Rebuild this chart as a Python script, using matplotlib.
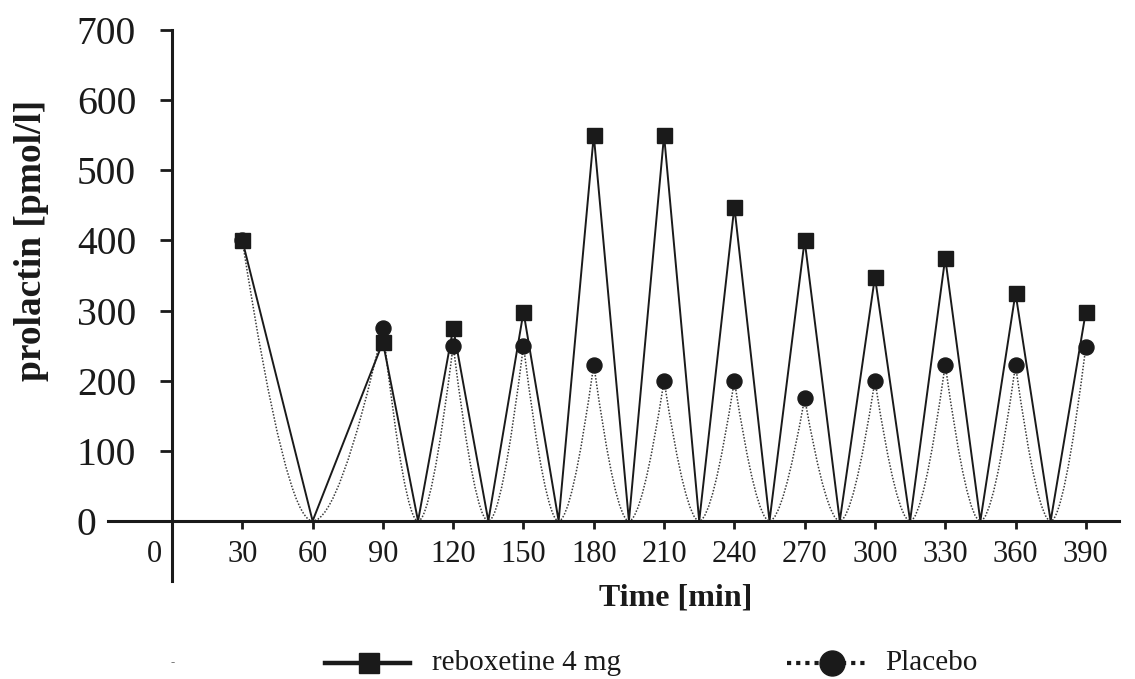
import matplotlib
matplotlib.use("Agg")
import matplotlib.pyplot as plt
from matplotlib.path import Path
from matplotlib.patches import PathPatch
from matplotlib.lines import Line2D

# ---- data ----
times = [30, 90, 120, 150, 180, 210, 240, 270, 300, 330, 360, 390]
reboxetine = [400, 255, 275, 298, 550, 550, 448, 400, 348, 375, 325, 298]
placebo = [400, 275, 250, 250, 223, 200, 200, 175, 200, 223, 222, 248]
# times at which the plotted lines drop to zero between samples
zero_times = [60, 105, 135, 165, 195, 225, 255, 285, 315, 345, 375]
xtick_vals = [30, 60, 90, 120, 150, 180, 210, 240, 270, 300, 330, 360, 390]
ytick_vals = [0, 100, 200, 300, 400, 500, 600, 700]


def interleave(vals):
    xs, ys = [], []
    for i, (t, v) in enumerate(zip(times, vals)):
        xs.append(t)
        ys.append(v)
        if i < len(zero_times):
            xs.append(zero_times[i])
            ys.append(0)
    return xs, ys


W, H = 1135, 679
fig = plt.figure(figsize=(W / 100, H / 100), dpi=100)
plt.rcParams['font.family'] = ['Liberation Serif', 'DejaVu Serif']

ax_l, ax_r = 107.6, 1118.6
ax_t, ax_b = 30.0, 580.6
ax = fig.add_axes([ax_l / W, 1 - ax_b / H, (ax_r - ax_l) / W, (ax_b - ax_t) / H])
ax.set_xlim(-27.5, 404)
ax.set_ylim(-85, 700)

# reboxetine: straight segments
rx, ry = interleave(reboxetine)
ax.plot(rx, ry, color='#1a1a1a', lw=1.4, zorder=3)
ax.plot(times, reboxetine, ls='none', marker='s', ms=10.8, color='#1a1a1a', zorder=5)

# placebo: smooth dotted curve touching zero
px, py = interleave(placebo)
verts = [(px[0], py[0])]
codes = [Path.MOVETO]
c = 0.62
for i in range(len(px) - 1):
    x0, y0, x1, y1 = px[i], py[i], px[i + 1], py[i + 1]
    if y1 == 0:  # peak -> zero
        ctrl = (x0 + c * (x1 - x0), 0)
    else:        # zero -> peak
        ctrl = (x1 + c * (x0 - x1), 0)
    verts += [ctrl, (x1, y1)]
    codes += [Path.CURVE3, Path.CURVE3]
ax.add_patch(PathPatch(Path(verts, codes), fill=False, ec='#3a3a3a', lw=1.1,
                       ls=(0, (1, 1.1)), zorder=2))
ax.plot(times, placebo, ls='none', marker='o', ms=10.8, color='#1a1a1a', zorder=4)

# spines
for s in ['top', 'right']:
    ax.spines[s].set_visible(False)
ax.spines['left'].set_position(('data', 0))
ax.spines['bottom'].set_position(('data', 0))
ax.spines['left'].set_linewidth(2.2)
ax.spines['bottom'].set_linewidth(2.2)
ax.spines['left'].set_color('#1a1a1a')
ax.spines['bottom'].set_color('#1a1a1a')

ax.set_yticks(ytick_vals)
ax.set_yticklabels([str(v) for v in ytick_vals])
ax.tick_params(axis='y', direction='out', length=8.6, width=2, color='#1a1a1a',
               labelsize=28.5, pad=60, labelcolor='#1a1a1a')
for lbl in ax.get_yticklabels():
    lbl.set_horizontalalignment('left')

ax.set_xticks(xtick_vals)
ax.set_xticklabels([str(v) for v in xtick_vals])
ax.tick_params(axis='x', direction='out', length=6, width=2, color='#1a1a1a',
               labelsize=22, pad=8, labelcolor='#1a1a1a')
ax.annotate('0', xy=(0, 0), xycoords='data', xytext=(-7, -14), textcoords='offset points',
            ha='right', va='top', fontsize=22, color='#1a1a1a')

ax.set_xlabel('Time [min]', fontsize=23, fontweight='bold', color='#1a1a1a')
ax.xaxis.set_label_coords(0.562, -0.005)
ax.set_ylabel('prolactin [pmol/l]', fontsize=27, fontweight='bold', color='#1a1a1a')
ax.yaxis.set_label_coords(-0.058, 0.617)

# legend (manual, figure pixel coords)
def fx(x):
    return x / W

def fy(y):
    return 1 - y / H

ly = 663
fig.add_artist(Line2D([fx(325), fx(410)], [fy(ly), fy(ly)], color='#1a1a1a', lw=3.2))
fig.add_artist(Line2D([fx(369)], [fy(ly)], marker='s', ms=14, color='#1a1a1a', ls='none'))
fig.text(fx(432), fy(ly), 'reboxetine 4 mg', fontsize=21, va='center', ha='left', color='#1a1a1a')
fig.add_artist(Line2D([fx(787), fx(868)], [fy(ly), fy(ly)], color='#1a1a1a', lw=3,
                      ls=(0, (1, 1.2))))
fig.add_artist(Line2D([fx(832)], [fy(ly)], marker='o', ms=18, color='#1a1a1a', ls='none'))
fig.text(fx(885), fy(ly), 'Placebo', fontsize=21, va='center', ha='left', color='#1a1a1a')
fig.text(fx(173), fy(ly), '-', fontsize=9, va='center', ha='center', color='#777777')

fig.savefig('out.png', dpi=100)
